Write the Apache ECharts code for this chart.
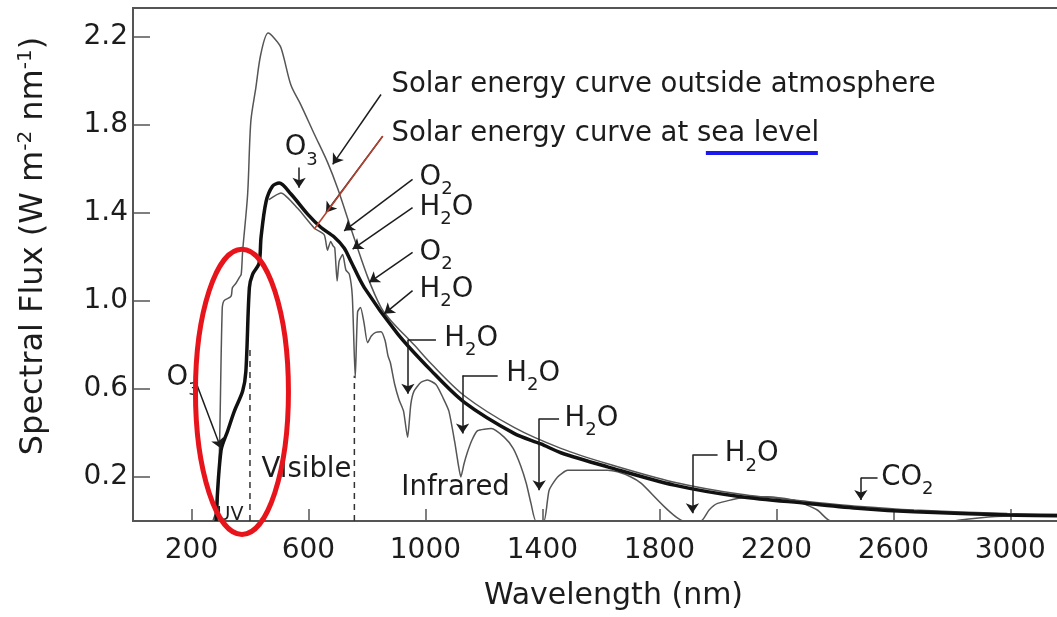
<!DOCTYPE html>
<html><head><meta charset="utf-8">
<script src="https://cdn.jsdelivr.net/npm/echarts@6/dist/echarts.min.js"></script>
<style>html,body{margin:0;padding:0;background:#fff}#c{width:1057px;height:617px}</style>
</head><body><div id="c"></div>
<script>
// ---- data (wavelength in nm, spectral flux in W m-2 nm-1) ----
const xTickLabels = [200, 600, 1000, 1400, 1800, 2200, 2600, 3000];
const yTickLabels = [0.2, 0.6, 1.0, 1.4, 1.8, 2.2];

const outsideNm   = [273, 290, 305, 311, 335, 340, 352, 364, 370, 375, 392, 403, 420, 437, 462, 483, 506, 540, 574, 619, 665, 700, 745, 802, 848, 882, 961, 1019, 1132, 1303, 1463, 1623, 1851, 2079, 2306, 2489, 2671, 2990, 3170];
const outsideFlux = [0, 0.08, 0.96, 1.00, 1.02, 1.06, 1.08, 1.107, 1.12, 1.227, 1.484, 1.816, 1.967, 2.12, 2.216, 2.193, 2.15, 1.98, 1.89, 1.76, 1.63, 1.51, 1.33, 1.11, 0.97, 0.91, 0.80, 0.715, 0.57, 0.425, 0.33, 0.26, 0.176, 0.121, 0.089, 0.066, 0.05, 0.034, 0.03];

const smoothNm   = [284, 301, 324, 347, 375, 386, 398, 409, 431, 438, 455, 477, 500, 540, 597, 643, 688, 722, 745, 791, 905, 1019, 1132, 1303, 1395, 1463, 1623, 1851, 2079, 2306, 2489, 2671, 2990, 3170];
const smoothFlux = [0, 0.32, 0.41, 0.50, 0.59, 0.68, 1.06, 1.12, 1.17, 1.29, 1.45, 1.52, 1.535, 1.485, 1.394, 1.333, 1.29, 1.24, 1.18, 1.06, 0.85, 0.684, 0.54, 0.398, 0.35, 0.31, 0.246, 0.163, 0.11, 0.08, 0.057, 0.042, 0.027, 0.024];

const seaLevelNm   = [465, 506, 563, 620, 654, 665, 676, 684, 690, 698, 705, 717, 728, 740, 750, 760, 768, 778, 790, 802, 815, 830, 848, 862, 872, 880, 895, 910, 925, 939, 950, 961, 985, 1007, 1036, 1060, 1080, 1100, 1112, 1121, 1132, 1143, 1160, 1178, 1225, 1270, 1300, 1326, 1345, 1361, 1378, 1405, 1423, 1452, 1486, 1520, 1623, 1657, 1703, 1737, 1885, 1942, 1970, 1999, 2079, 2170, 2260, 2340, 2386, 2800, 2850, 2900, 2950, 3000];
const seaLevelFlux = [1.46, 1.49, 1.42, 1.33, 1.30, 1.23, 1.27, 1.25, 1.24, 1.09, 1.18, 1.21, 1.14, 1.12, 1.02, 0.65, 0.95, 0.97, 0.90, 0.81, 0.84, 0.857, 0.86, 0.82, 0.75, 0.72, 0.62, 0.55, 0.50, 0.38, 0.53, 0.59, 0.63, 0.64, 0.62, 0.56, 0.50, 0.36, 0.26, 0.20, 0.26, 0.31, 0.37, 0.41, 0.42, 0.38, 0.33, 0.25, 0.17, 0.08, 0, 0, 0.14, 0.20, 0.23, 0.23, 0.23, 0.223, 0.20, 0.172, 0, 0, 0.05, 0.08, 0.104, 0.11, 0.095, 0.05, 0, 0, 0.008, 0.015, 0.02, 0.024];

const bandEdgeNm  = [400, 757];
const bandEdgeTop = [0.78, 0.66];

// ---- annotations (placed in data coordinates) ----
const notes = [
  ['{m|Solar energy curve outside atmosphere}', [882, 1.979]],
  ['{m|Solar energy curve at sea level}', [882, 1.759]],
  ['{m|O}{s|2}', [978, 1.559]],
  ['{m|H}{s|2}{m|O}', [978, 1.424]],
  ['{m|O}{s|2}', [978, 1.220]],
  ['{m|H}{s|2}{m|O}', [978, 1.051]],
  ['{m|H}{s|2}{m|O}', [1063, 0.829]],
  ['{m|H}{s|2}{m|O}', [1275, 0.670]],
  ['{m|H}{s|2}{m|O}', [1474, 0.466]],
  ['{m|H}{s|2}{m|O}', [2022, 0.303]],
  ['{m|CO}{s|2}', [2557, 0.197]],
  ['{m|O}{s|3}', [517, 1.694]],
  ['{m|O}{s|3}', [113, 0.650]],
  ['{m|Visible}', [438, 0.231]],
  ['{m|Infrared}', [916, 0.152]],
  ['{u|UV}', [284, 0.027]]
];
// bracket parts (no head) and pointer parts (with arrow head)
const arrowShafts = [
  [[1036, 0.823], [940, 0.823]],
  [[1247, 0.661], [1127, 0.661]],
  [[1457, 0.465], [1389, 0.465]],
  [[1999, 0.299], [1913, 0.299]],
  [[2546, 0.196], [2489, 0.196]]
];
const arrowHeads = [
  [[848, 1.937], [683, 1.620]],
  [[854, 1.748], [660, 1.401]],
  [[956, 1.552], [722, 1.318]],
  [[956, 1.423], [751, 1.235]],
  [[956, 1.220], [808, 1.084]],
  [[956, 1.046], [859, 0.941]],
  [[940, 0.823], [940, 0.578]],
  [[1127, 0.661], [1127, 0.397]],
  [[1389, 0.465], [1389, 0.140]],
  [[1913, 0.299], [1913, 0.035]],
  [[2489, 0.196], [2489, 0.095]],
  [[568, 1.605], [568, 1.514]],
  [[215, 0.631], [301, 0.329]]
];
const redPointer = [[854, 1.748], [620, 1.326]];
const blueUnderline = [[1959, 1.671], [2342, 1.671]];
const ellipseCenter = [372.6, 0.5865];
const ellipseRadius = [159, 0.648];

const zip = (a, b) => a.map((x, i) => [x, b[i]]);
const FONT = 'DejaVu Sans';
const INK = '#1c1c1c';
const rich = {
  m: {fontFamily: FONT, fontSize: 27.5, lineHeight: 31, color: INK},
  s: {fontFamily: FONT, fontSize: 18, lineHeight: 19, padding: [24, 0, 0, 0], color: INK},
  u: {fontFamily: FONT, fontSize: 19, lineHeight: 20, color: INK}
};

const chart = echarts.init(document.getElementById('c'), null, {renderer: 'canvas'});
chart.setOption({
  animation: false,
  backgroundColor: '#fff',
  grid: {left: 133, top: 8, right: -3, bottom: 96, show: true, borderColor: '#555', borderWidth: 2, containLabel: false, outerBoundsMode: 'none'},
  xAxis: {
    type: 'value', min: 0, max: 3170,
    name: 'Wavelength (nm)', nameLocation: 'middle', nameGap: 60,
    nameTextStyle: {fontFamily: FONT, fontSize: 30, color: INK, padding: [0, 0, 0, 34]},
    axisLine: {show: true, lineStyle: {color: '#555', width: 2}},
    axisTick: {show: true, inside: true, length: 12, lineStyle: {color: '#555', width: 1.5}, customValues: xTickLabels},
    axisLabel: {fontFamily: FONT, fontSize: 28, color: INK, margin: 16, customValues: xTickLabels, formatter: v => String(v)},
    splitLine: {show: false}
  },
  yAxis: {
    type: 'value', min: 0, max: 2.33,
    name: '{n|Spectral Flux (W m}{p|-2}{n| nm}{p|-1}{n|)}', nameLocation: 'middle', nameGap: 82, nameRotate: 90,
    nameTextStyle: {padding: [0, 0, 0, 37], rich: {
      n: {fontFamily: FONT, fontSize: 32, lineHeight: 35, color: INK},
      p: {fontFamily: FONT, fontSize: 20, lineHeight: 20, padding: [0, 0, 16, 0], color: INK}
    }},
    axisLine: {show: true, lineStyle: {color: '#555', width: 2}},
    axisTick: {show: true, inside: true, length: 17, lineStyle: {color: '#555', width: 1.5}, customValues: yTickLabels},
    axisLabel: {fontFamily: FONT, fontSize: 28, color: INK, margin: 5, customValues: yTickLabels, formatter: v => v.toFixed(1)},
    splitLine: {show: false}
  },
  series: [
    {type: 'line', name: 'edges', data: [[bandEdgeNm[0], 0], [bandEdgeNm[0], bandEdgeTop[0]]], showSymbol: false, lineStyle: {color: '#333', width: 1.5, type: [6, 5]}},
    {type: 'line', name: 'edges2', data: [[bandEdgeNm[1], 0], [bandEdgeNm[1], bandEdgeTop[1]]], showSymbol: false, lineStyle: {color: '#333', width: 1.5, type: [6, 5]}},
    {type: 'line', name: 'outside', data: zip(outsideNm, outsideFlux), showSymbol: false, smooth: 0.3, lineStyle: {color: '#555', width: 1.5}},
    {type: 'line', name: 'sea', data: zip(seaLevelNm, seaLevelFlux), showSymbol: false, smooth: 0.2, lineStyle: {color: '#555', width: 1.5}},
    {type: 'line', name: 'smooth', data: zip(smoothNm, smoothFlux), showSymbol: false, smooth: 0.3, lineStyle: {color: '#111', width: 3.5}},
    {type: 'lines', coordinateSystem: 'cartesian2d', symbol: ['none', 'none'],
      lineStyle: {color: INK, width: 1.5, opacity: 1, curveness: 0}, data: arrowShafts.map(c => ({coords: c})), z: 5},
    {type: 'lines', coordinateSystem: 'cartesian2d', symbol: ['none', 'arrow'], symbolSize: 10,
      lineStyle: {color: INK, width: 1.5, opacity: 1, curveness: 0}, data: arrowHeads.map(c => ({coords: c})), z: 5},
    {type: 'lines', coordinateSystem: 'cartesian2d', symbol: ['none', 'none'],
      lineStyle: {color: '#b8402f', width: 1.6, opacity: 1, curveness: 0}, data: [{coords: redPointer}], z: 6},
    {type: 'lines', coordinateSystem: 'cartesian2d', symbol: ['none', 'none'],
      lineStyle: {color: '#1a1aee', width: 4, opacity: 1, curveness: 0}, data: [{coords: blueUnderline}], z: 6},
    {type: 'scatter', symbolSize: 1, itemStyle: {color: 'rgba(0,0,0,0)', opacity: 1}, z: 7, clip: false,
      label: {show: true, position: 'right', distance: 0, rich: rich, color: INK, opacity: 1},
      data: notes.map(n => ({value: n[1], label: {formatter: n[0]}}))}
  ]
});
const c0 = chart.convertToPixel({gridIndex: 0}, ellipseCenter);
const c1 = chart.convertToPixel({gridIndex: 0}, [ellipseCenter[0] + ellipseRadius[0], ellipseCenter[1] + ellipseRadius[1]]);
chart.setOption({graphic: [{type: 'ellipse', shape: {cx: c0[0], cy: c0[1], rx: c1[0] - c0[0], ry: c0[1] - c1[1]},
  style: {fill: 'none', stroke: '#e8141b', lineWidth: 5}, z: 100}]});
</script></body></html>
